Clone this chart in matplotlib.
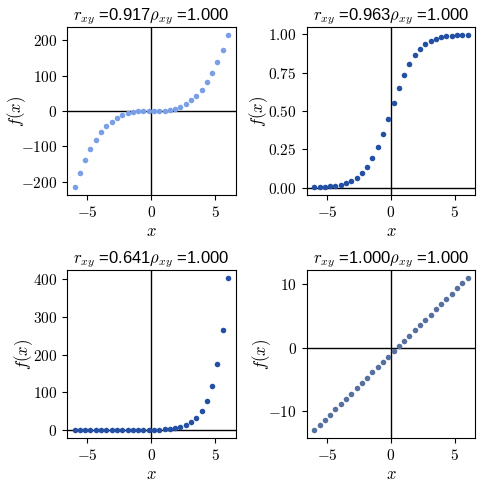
import matplotlib
matplotlib.use('Agg')
import matplotlib.pyplot as plt
from matplotlib.ticker import ScalarFormatter, MaxNLocator

plt.rcParams['mathtext.fontset'] = 'cm'
plt.rcParams['font.family'] = ['Liberation Sans', 'DejaVu Sans']

x = [-6.000, -5.586, -5.172, -4.759, -4.345, -3.931, -3.517, -3.103, -2.690, -2.276,
     -1.862, -1.448, -1.034, -0.621, -0.207, 0.207, 0.621, 1.034, 1.448, 1.862,
     2.276, 2.690, 3.103, 3.517, 3.931, 4.345, 4.759, 5.172, 5.586, 6.000]

y_cubic = [-216.0, -174.3, -138.4, -107.8, -82.0, -60.8, -43.5, -29.9, -19.5, -11.8,
           -6.46, -3.04, -1.11, -0.24, -0.01, 0.01, 0.24, 1.11, 3.04, 6.46,
           11.8, 19.5, 29.9, 43.5, 60.8, 82.0, 107.8, 138.4, 174.3, 216.0]

y_sigmoid = [0.0025, 0.0037, 0.0056, 0.0085, 0.0128, 0.0193, 0.0288, 0.0430, 0.0636, 0.0931,
             0.1345, 0.1903, 0.2623, 0.3496, 0.4484, 0.5516, 0.6504, 0.7377, 0.8097, 0.8655,
             0.9069, 0.9364, 0.9570, 0.9712, 0.9807, 0.9872, 0.9915, 0.9944, 0.9963, 0.9975]

y_exp = [0.0025, 0.0037, 0.0057, 0.0086, 0.0130, 0.0196, 0.0297, 0.0449, 0.0679, 0.1027,
         0.1554, 0.2351, 0.3556, 0.5374, 0.813, 1.230, 1.861, 2.812, 4.255, 6.44,
         9.74, 14.73, 22.27, 33.7, 50.9, 77.1, 116.6, 176.3, 266.7, 403.4]

y_linear = [-13.0, -12.17, -11.34, -10.52, -9.69, -8.86, -8.03, -7.21, -6.38, -5.55,
            -4.72, -3.90, -3.07, -2.24, -1.41, -0.59, 0.24, 1.07, 1.90, 2.72,
            3.55, 4.38, 5.21, 6.03, 6.86, 7.69, 8.52, 9.34, 10.17, 11.0]

pearson = [0.917, 0.963, 0.641, 1.000]
spearman = [1.000, 1.000, 1.000, 1.000]
series = [y_cubic, y_sigmoid, y_exp, y_linear]
colors = ['#7b9fe6', '#2350a5', '#2350a5', '#5670a0']
ylabel_x = [-0.23, -0.215, -0.19, -0.2]


class MathFormatter(ScalarFormatter):
    def __call__(self, v, pos=None):
        s = super().__call__(v, pos).replace('\u2212', '-')
        if s.startswith('-'):
            return r'$-\mathrm{%s}$' % s[1:]
        return r'$\mathrm{%s}$' % s


fig, axes = plt.subplots(2, 2, figsize=(4.85, 4.86), dpi=100)
fig.subplots_adjust(left=0.138, right=0.98, top=0.944, bottom=0.099,
                    wspace=0.42, hspace=0.45)

for ax, y, c, r, rho, lx in zip(axes.flat, series, colors, pearson, spearman, ylabel_x):
    ax.scatter(x, y, s=16, color=c, zorder=3, linewidths=0)
    ax.axhline(0, color='black', lw=1)
    ax.axvline(0, color='black', lw=1)
    ax.set_title(r'$r_{xy}$ =%.3f$\rho_{xy}$ =%.3f' % (r, rho), fontsize=12, pad=4)
    ax.set_xlabel('$x$', fontsize=12, labelpad=3)
    ax.set_ylabel('$f(x)$', fontsize=12)
    ax.yaxis.set_label_coords(lx, 0.5)
    ax.xaxis.set_major_locator(MaxNLocator(nbins=5, steps=[1, 2, 2.5, 5, 10]))
    ax.yaxis.set_major_locator(MaxNLocator(nbins=5, steps=[1, 2, 2.5, 5, 10]))
    ax.xaxis.set_major_formatter(MathFormatter(useMathText=False))
    ax.yaxis.set_major_formatter(MathFormatter(useMathText=False))
    ax.tick_params(labelsize=11)

fig.savefig('out.png')
